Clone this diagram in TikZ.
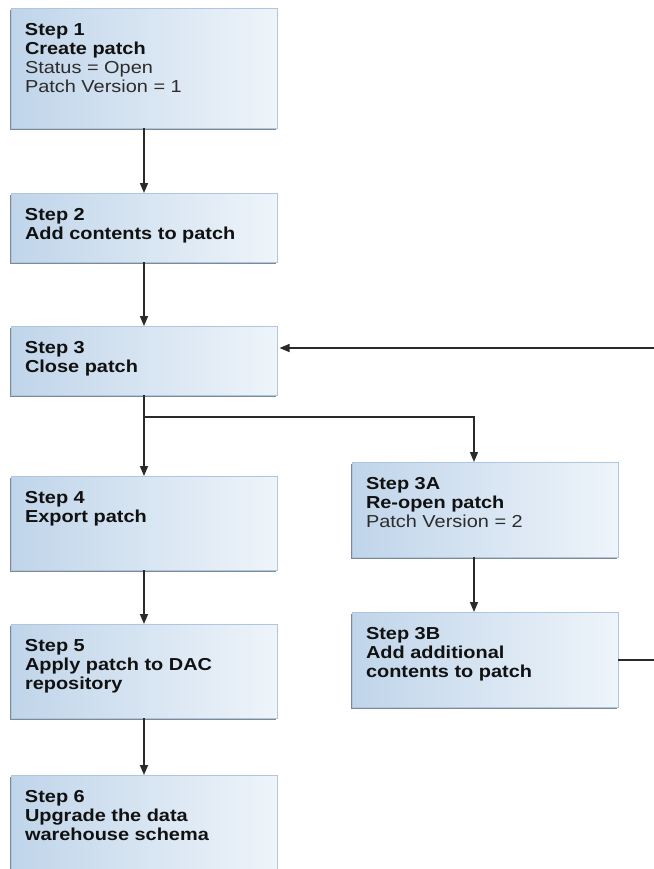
\documentclass[tikz,border=0pt]{standalone}
\usepackage{fontspec}
\setmainfont{Liberation Sans}[FakeStretch=1.15]
\usetikzlibrary{arrows.meta,shadows}
\definecolor{boxL}{HTML}{C0D5EA}
\definecolor{boxR}{HTML}{EEF4FA}
\definecolor{boxEdge}{HTML}{AFC6DD}
\definecolor{shadowC}{HTML}{7F8993}
\definecolor{lineC}{HTML}{2A2A2A}
\definecolor{txtB}{HTML}{111111}
\definecolor{txtR}{HTML}{2C2C2C}
\newlength{\pxu}
\setlength{\pxu}{0.75pt}
\newcommand{\bxt}[2]{\parbox[b][#1\pxu][t]{238\pxu}{\fontsize{13pt}{14.25pt}\selectfont\raggedright\rule{0pt}{27\pxu}#2}}
\newcommand{\stb}[1]{\textbf{\color{txtB}#1}}
\begin{document}
\begin{tikzpicture}[x=0.75pt,y=-0.75pt,
  box/.style={anchor=north west, inner xsep=14\pxu, inner ysep=0pt, outer sep=0pt,
    left color=boxL, right color=boxR, draw=boxEdge, line width=0.6pt,
    general shadow={fill=shadowC, shadow xshift=-0.9pt, shadow yshift=-1.6pt},
    text=txtR},
  arr/.style={draw=lineC, line width=1.1pt, -{Triangle[length=7.5pt,width=6pt]}},
  ln/.style={draw=lineC, line width=1.1pt}]
\useasboundingbox (0,0) rectangle (654,869);

\node[box] (s1) at (11,8) {\bxt{120}{\stb{Step 1}\\\stb{Create patch}\\Status = Open\\Patch Version = 1}};
\node[box] (s2) at (11,193) {\bxt{69}{\stb{Step 2}\\\stb{Add contents to patch}}};
\node[box] (s3) at (11,326) {\bxt{69}{\stb{Step 3}\\\stb{Close patch}}};
\node[box] (s4) at (11,476) {\bxt{94}{\stb{Step 4}\\\stb{Export patch}}};
\node[box] (s5) at (11,624) {\bxt{94}{\stb{Step 5}\\\stb{Apply patch to DAC}\\\stb{repository}}};
\node[box] (s6) at (11,775) {\bxt{100}{\stb{Step 6}\\\stb{Upgrade the data}\\\stb{warehouse schema}}};
\node[box] (s3a) at (352,462) {\bxt{95}{\stb{Step 3A}\\\stb{Re-open patch}\\Patch Version = 2}};
\node[box] (s3b) at (352,612) {\bxt{95}{\stb{Step 3B}\\\stb{Add additional}\\\stb{contents to patch}}};

\coordinate (j1) at (144,417);
\coordinate (j2) at (474,417);
\coordinate (rin) at (654,348);
\coordinate (rout) at (654,660);

\draw[arr] (s1.south) -- (s2.north);
\draw[arr] (s2.south) -- (s3.north);
\draw[ln] (s3.south) -- (j1);
\draw[arr] (j1) -- (s4.north);
\draw[arr] (j1) -- (j2) -- (j2 |- s3a.north);
\draw[arr] (j2 |- s3a.south) -- (j2 |- s3b.north);
\draw[arr] (s4.south) -- (s5.north);
\draw[arr] (s5.south) -- (s6.north);
\draw[ln] (s3b.east |- rout) -- (rout);
\draw[arr] (rin) -- ([xshift=2.5\pxu]s3.east |- rin);
\end{tikzpicture}
\end{document}
